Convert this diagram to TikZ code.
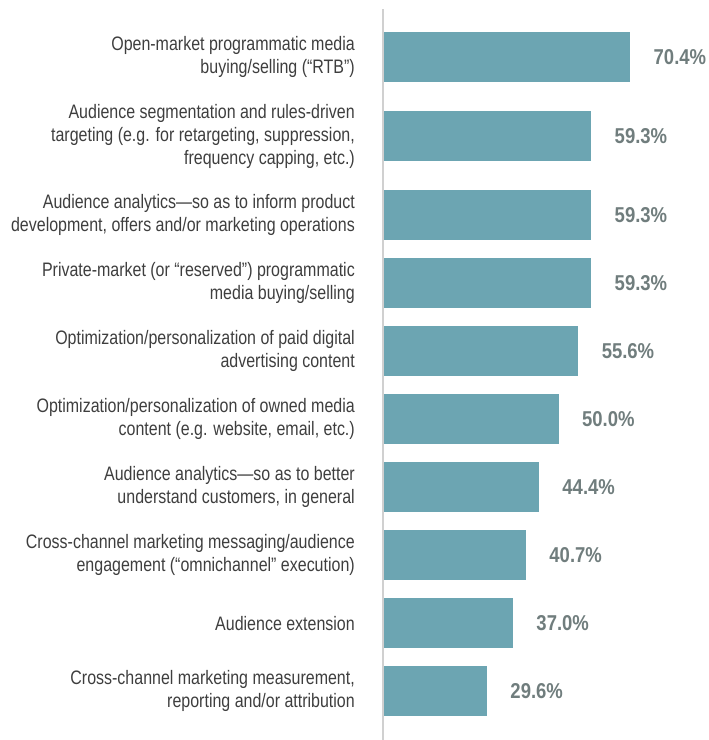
\documentclass[tikz,border=0pt]{standalone}
\usepackage{fontspec}
\usetikzlibrary{positioning}
\newfontfamily\labfont{Liberation Sans}[FakeStretch=0.82]
\newfontfamily\valfont{Liberation Sans}[FakeStretch=0.86]
\definecolor{barteal}{RGB}{108,165,178}
\definecolor{valgray}{RGB}{112,125,125}
\definecolor{labgray}{RGB}{62,62,62}
\definecolor{axisgray}{RGB}{208,208,208}

\tikzset{bar/.style={fill=barteal, draw=none, rectangle, inner sep=0pt, minimum height=50pt, anchor=north west},
         lab/.style={align=right, anchor=east, inner sep=0pt, text=labgray, font=\labfont\fontsize{19.5}{23}\selectfont},
         val/.style={anchor=west, inner sep=0pt, text=valgray, font=\valfont\bfseries\fontsize{21.5}{24}\selectfont}}

\begin{document}
\begin{tikzpicture}[x=1pt, y=-1pt, node distance=23pt]
\useasboundingbox (0,0) rectangle (709,740);
\coordinate (axtop) at (383,9);
\coordinate (axbot) at (383,740);
\foreach \i/\top/\v in {1/32/70.4, 2/111/59.3, 3/190/59.3, 4/258/59.3, 5/326/55.6,
                        6/394/50.0, 7/462/44.4, 8/530/40.7, 9/598/37.0, 10/666/29.6}{
  \pgfmathsetmacro{\w}{\v*3.51}
  \node[bar, minimum width=\w pt] (bar\i) at (383,\top) {};
  \node[val, right=of bar\i] (val\i) {\v\%};
}
\draw[axisgray, line width=1.5pt] (axtop) -- (axbot);
% category labels
\node[lab, left=28pt of bar1.west]  (lab1)  {Open-market programmatic media\\buying/selling (“RTB”)};
\node[lab, left=28pt of bar2.west]  (lab2)  {Audience segmentation and rules-driven\\targeting (e.g. for retargeting, suppression,\\frequency capping, etc.)};
\node[lab, left=28pt of bar3.west]  (lab3)  {Audience analytics—so as to inform product\\development, offers and/or marketing operations};
\node[lab, left=28pt of bar4.west]  (lab4)  {Private-market (or “reserved”) programmatic\\media buying/selling};
\node[lab, left=28pt of bar5.west]  (lab5)  {Optimization/personalization of paid digital\\advertising content};
\node[lab, left=28pt of bar6.west]  (lab6)  {Optimization/personalization of owned media\\content (e.g. website, email, etc.)};
\node[lab, left=28pt of bar7.west]  (lab7)  {Audience analytics—so as to better\\understand customers, in general};
\node[lab, left=28pt of bar8.west]  (lab8)  {Cross-channel marketing messaging/audience\\engagement (“omnichannel” execution)};
\node[lab, left=28pt of bar9.west]  (lab9)  {Audience extension};
\node[lab, left=28pt of bar10.west] (lab10) {Cross-channel marketing measurement,\\reporting and/or attribution};
\end{tikzpicture}
\end{document}
